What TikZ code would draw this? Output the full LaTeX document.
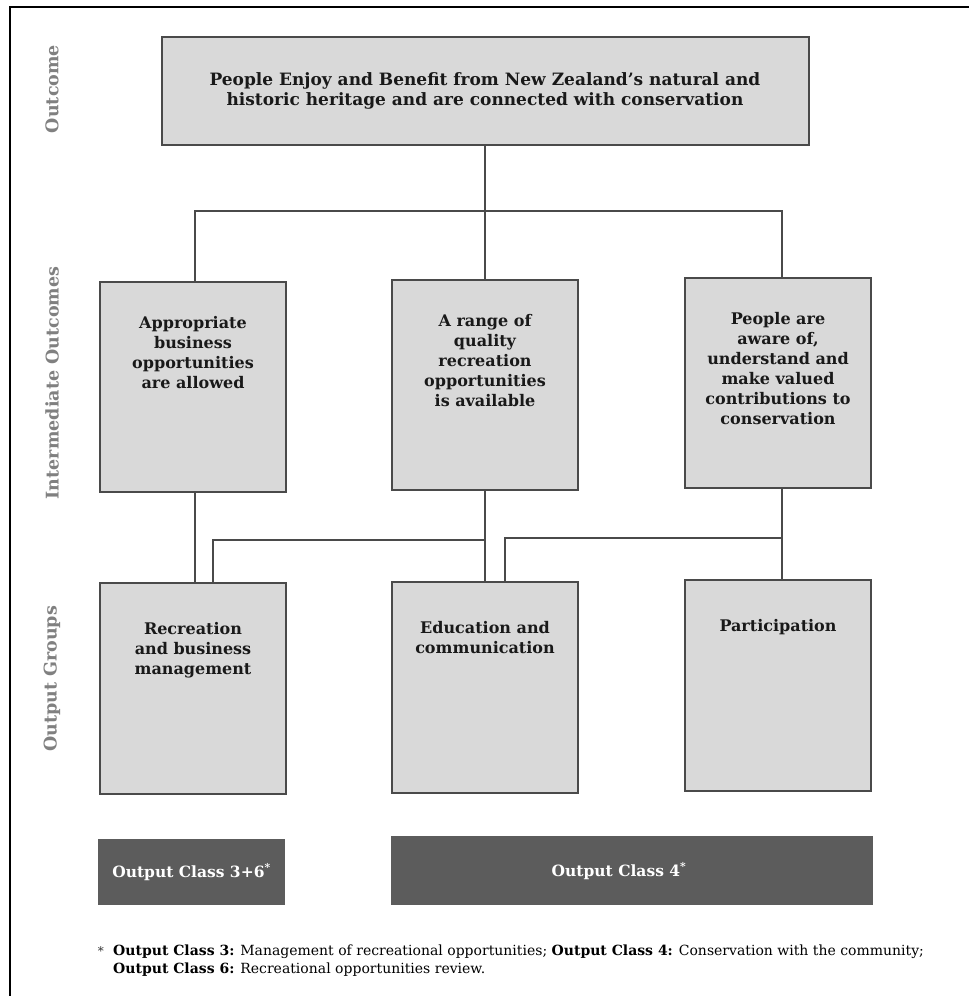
\documentclass[tikz,border=0pt]{standalone}
\usepackage{fontspec}
\setmainfont{DejaVu Serif}
\definecolor{boxfill}{HTML}{D9D9D9}
\definecolor{boxline}{HTML}{4A4A4A}
\definecolor{ocfill}{HTML}{5C5C5C}
\definecolor{sidegray}{HTML}{808080}
\tikzset{
  x=1pt, y=-1pt,
  box/.style={draw=boxline, fill=boxfill, line width=2pt, minimum width=186pt, minimum height=210pt, inner sep=0pt},
  boxtext/.style={font=\bfseries\fontsize{16}{20}\selectfont, align=center, text=black!90, inner sep=0pt, anchor=north},
  ocbox/.style={fill=ocfill, inner sep=0pt},
  octext/.style={font=\bfseries\fontsize{15.5}{18}\selectfont, text=white, inner sep=0pt},
  side/.style={rotate=90, text=sidegray, font=\bfseries\fontsize{17.5}{19}\selectfont, inner sep=0pt},
  wire/.style={draw=boxline, line width=2pt},
  frameline/.style={draw=black, line width=1.4pt}
}
\begin{document}
\begin{tikzpicture}
\useasboundingbox[fill=white] (0,0) rectangle (969,996);
% partial frame
\coordinate (fbl) at (10,996);
\coordinate (ftl) at (10,7);
\coordinate (ftr) at (969,7);
\draw[frameline] (fbl) -- (ftl) -- (ftr);

% side labels
\node[side] (lout) at (52,89) {Outcome};
\node[side] (lint) at (52,383) {Intermediate Outcomes};
\node[side] (lgrp) at (52,679) {Output Groups};

% top outcome
\node[box, minimum width=647pt, minimum height=108pt,
      font=\bfseries\fontsize{17}{19.5}\selectfont, align=center, text=black!90] (top) at (485,91)
  {People Enjoy and Benefit from New Zealand’s natural and\\historic heritage and are connected with conservation};

% intermediate outcomes
\node[box] (io1) at (193,387) {};
\node[box] (io2) at (485,385) {};
\node[box] (io3) at (778,383) {};
\node[boxtext] (io1t) at ([yshift=-35]io1.north) {Appropriate\\business\\opportunities\\are allowed};
\node[boxtext] (io2t) at ([yshift=-35]io2.north) {A range of\\quality\\recreation\\opportunities\\is available};
\node[boxtext] (io3t) at ([yshift=-35]io3.north) {People are\\aware of,\\understand and\\make valued\\contributions to\\conservation};

% output groups
\node[box, minimum height=211pt] (og1) at (193,688.5) {};
\node[box, minimum height=211pt] (og2) at (485,687.5) {};
\node[box, minimum height=211pt] (og3) at (778,685.5) {};
\node[boxtext] (og1t) at ([yshift=-40]og1.north) {Recreation\\and business\\management};
\node[boxtext] (og2t) at ([yshift=-40]og2.north) {Education and\\communication};
\node[boxtext] (og3t) at ([yshift=-40]og3.north) {Participation};

% output classes
\node[ocbox, minimum width=187pt, minimum height=66pt] (oc1) at (191.5,872) {};
\node[ocbox, minimum width=482pt, minimum height=69pt] (oc2) at (632,870.5) {};
\node[octext] (oc1t) at (oc1.center) {Output Class 3+6\textsuperscript{*}};
\node[octext] (oc2t) at (619,871) {Output Class 4\textsuperscript{*}};

% connectors
\coordinate (bus) at (485,211);
\draw[wire] (top.south) -- (bus);
\draw[wire] ([xshift=2]io1.north) |- (bus) -| ([xshift=4]io3.north);
\draw[wire] (bus) -- (io2.north);
\draw[wire] ([xshift=2]io1.south) -- ([xshift=2]og1.north);
\draw[wire] (io2.south) -- (og2.north);
\draw[wire] ([xshift=4]io3.south) -- ([xshift=4]og3.north);
\coordinate (j1) at (485,540);
\coordinate (j2) at (782,538);
\draw[wire] ([xshift=20]og1.north) |- (j1);
\draw[wire] ([xshift=20]og2.north) |- (j2);

% footnote
\node[anchor=west, inner sep=0pt, font=\fontsize{14}{18}\selectfont, align=left] (fn) at (113,961)
  {\textbf{Output Class 3:} Management of recreational opportunities; \textbf{Output Class 4:} Conservation with the community;\\
   \textbf{Output Class 6:} Recreational opportunities review.};
\node[anchor=east, inner sep=0pt, font=\fontsize{12}{12}\selectfont, text=black!80] (fnstar) at (104,951) {*};
\end{tikzpicture}
\end{document}
